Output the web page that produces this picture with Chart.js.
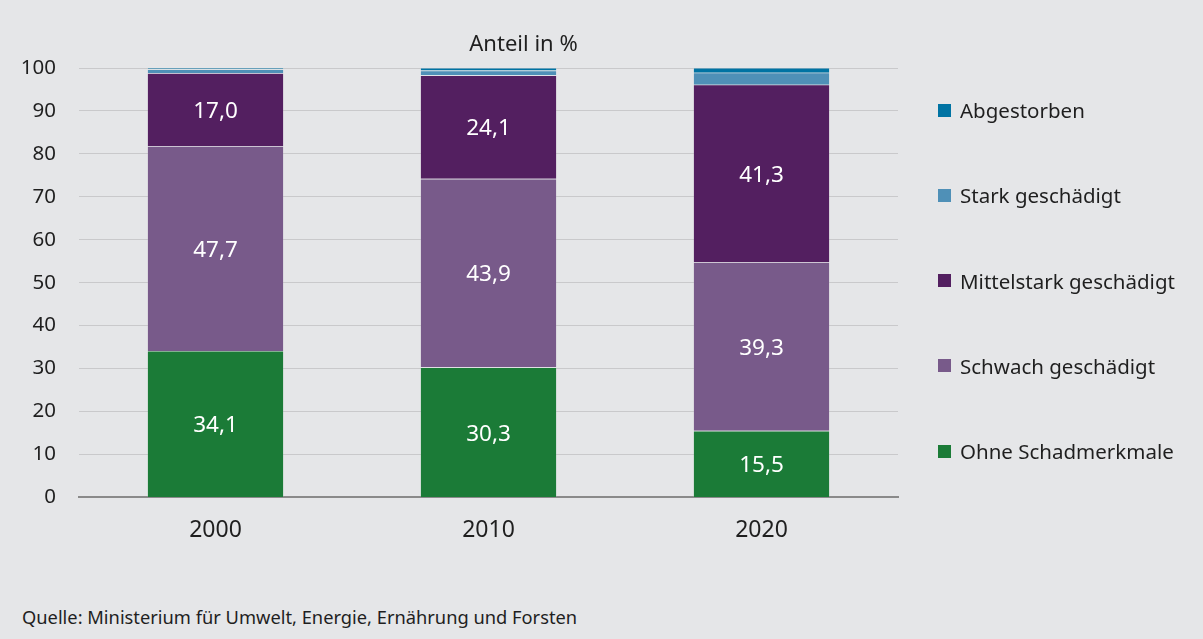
<!DOCTYPE html>
<html lang="de">
<head>
<meta charset="utf-8">
<title>Kronenzustand</title>
<script src="https://cdn.jsdelivr.net/npm/chart.js@4.4.1/dist/chart.umd.min.js"></script>
<style>
  html, body { margin: 0; padding: 0; background: #e5e6e8; }
  #wrap { position: relative; width: 1203px; height: 639px; background: #e5e6e8; overflow: hidden;
          font-family: 'Noto Sans', sans-serif; color: #1f1f1f; }
  #box { position: absolute; left: 0; top: 0; width: 1203px; height: 566px; }
  #unit { position: absolute; left: 0; width: 1047px; text-align: center; top: 27px; font-size: 22px; }
  #src { position: absolute; left: 22px; top: 604px; font-size: 18.3px; }
  .li { position: absolute; left: 938px; height: 24px; display: flex; align-items: center;
        white-space: nowrap; font-size: 20.5px; }
  .sw { width: 13px; height: 13px; margin-right: 9px; flex: none; }
</style>
</head>
<body>
<div id="wrap">
  <div id="box"><canvas id="c"></canvas></div>
  <div id="unit">Anteil in %</div>
  <div id="legend"></div>
  <div id="src">Quelle: Ministerium für Umwelt, Energie, Ernährung und Forsten</div>
</div>
<script>
// Erhebungsjahre
const years = ['2000', '2010', '2020'];

// Anteile der Schadstufen in % (von unten nach oben gestapelt)
const ohneSchadmerkmale = [34.1, 30.3, 15.5];
const schwachGeschaedigt = [47.7, 43.9, 39.3];
const mittelstarkGeschaedigt = [17.0, 24.1, 41.3];
const starkGeschaedigt = [0.9, 1.1, 2.8];
const abgestorben = [0.3, 0.6, 1.1];

const seriesNames = ['Ohne Schadmerkmale', 'Schwach geschädigt', 'Mittelstark geschädigt', 'Stark geschädigt', 'Abgestorben'];
const seriesColors = ['#1b7b37', '#785a8a', '#531f60', '#4f90b7', '#0073a3'];
const seriesValues = [ohneSchadmerkmale, schwachGeschaedigt, mittelstarkGeschaedigt, starkGeschaedigt, abgestorben];
const labelledSeries = [true, true, true, false, false];

// y-Achse
const yTicks = [0, 10, 20, 30, 40, 50, 60, 70, 80, 90, 100];

const FONT = "'Noto Sans', sans-serif";
const fmt = v => v.toFixed(1).replace('.', ',');

// Werte mittig in die Balkensegmente schreiben
const valueLabels = {
  id: 'valueLabels',
  afterDatasetsDraw(chart) {
    const ctx = chart.ctx;
    ctx.save();
    ctx.fillStyle = '#ffffff';
    ctx.font = '22.5px ' + FONT;
    ctx.textAlign = 'center';
    ctx.textBaseline = 'middle';
    chart.data.datasets.forEach((ds, di) => {
      if (!ds.showValue) return;
      chart.getDatasetMeta(di).data.forEach((bar, i) => {
        const y = (bar.y + bar.base) / 2 + 2;
        ctx.fillText(fmt(ds.data[i]), bar.x, y);
      });
    });
    ctx.restore();
  }
};

const datasets = seriesNames.map((name, k) => ({
  label: name,
  data: seriesValues[k],
  backgroundColor: seriesColors[k],
  borderColor: 'rgba(255,255,255,0.22)',
  borderWidth: 0.6,
  showValue: labelledSeries[k],
  categoryPercentage: 1.0,
  barPercentage: 0.5
}));

const chart = new Chart(document.getElementById('c'), {
  type: 'bar',
  data: { labels: years, datasets },
  plugins: [valueLabels],
  options: {
    responsive: true,
    maintainAspectRatio: false,
    animation: false,
    layout: { padding: { left: 0, right: 305, top: 68, bottom: 3 } },
    plugins: { legend: { display: false }, tooltip: { enabled: false }, title: { display: false } },
    scales: {
      x: {
        stacked: true,
        grid: { display: false, drawTicks: false },
        border: { display: true, color: '#8a8a8a', width: 2 },
        ticks: { color: '#1f1f1f', font: { family: FONT, size: 23 }, padding: 19 }
      },
      y: {
        stacked: true,
        min: 0, max: 100,
        afterBuildTicks(scale) { scale.ticks = yTicks.map(v => ({ value: v })); },
        afterFit(scale) { scale.width = 79; },
        grid: { color: '#c9c9cb', lineWidth: 1, drawTicks: false },
        border: { display: false },
        ticks: { color: '#1f1f1f', font: { family: FONT, size: 20.5 }, padding: 23 }
      }
    }
  }
});

// Legende: oberste Schadstufe zuerst
const legend = document.getElementById('legend');
const order = seriesNames.map((_, k) => k).reverse();
order.forEach((k, row) => {
  const item = document.createElement('div');
  item.className = 'li';
  item.style.top = (98 + row * 85.3) + 'px';
  const sw = document.createElement('span');
  sw.className = 'sw';
  sw.style.background = seriesColors[k];
  const tx = document.createElement('span');
  tx.textContent = seriesNames[k];
  item.appendChild(sw);
  item.appendChild(tx);
  legend.appendChild(item);
});
</script>
</body>
</html>
